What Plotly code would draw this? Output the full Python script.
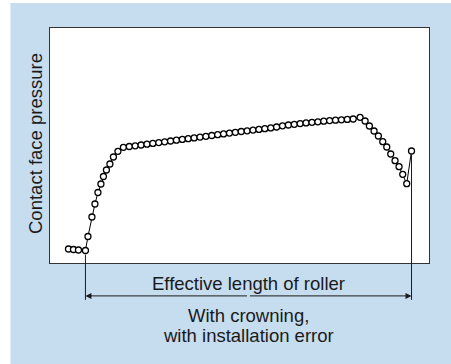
import plotly.graph_objects as go

# Position along the roller (arbitrary units) and contact face pressure (arbitrary units)
x_pos = [18.5, 23.5, 28.5, 35.5,
         38.0, 42.0, 45.0, 48.0, 51.0, 53.5, 56.5, 60.0, 63.5, 68.0,
         73.5, 79.4, 85.3, 91.2, 97.1, 103.0, 108.9, 114.8, 120.7, 126.6,
         132.5, 138.4, 144.3, 150.2, 156.1, 162.0, 167.9, 173.8, 179.7, 185.6,
         191.5, 197.4, 203.3, 209.2, 215.1, 221.0, 226.9, 232.8, 238.7, 244.6,
         250.5, 256.4, 262.3, 268.2, 274.1, 280.0, 285.9, 291.8, 297.7, 303.6,
         310.5,
         315.5, 319.8, 324.5, 328.8, 333.2, 337.2, 341.2, 345.5, 349.5, 353.2, 357.2,
         362.0]
pressure = [14.0, 13.5, 13.0, 12.5,
            26.5, 46.0, 59.0, 70.5, 79.0, 86.5, 93.0, 99.0, 106.0, 111.7,
            115.7, 116.5, 117.2, 118.0, 118.8, 119.6, 120.4, 121.2, 122.0, 122.8,
            123.6, 124.3, 125.1, 125.9, 126.7, 127.5, 128.3, 129.1, 129.9, 130.7,
            131.5, 132.2, 132.9, 133.6, 134.3, 135.1, 136.0, 137.2, 138.0, 138.7,
            139.4, 140.1, 140.7, 141.2, 141.8, 142.4, 142.8, 143.2, 143.6, 144.0,
            145.7,
            142.0, 137.0, 132.0, 127.0, 121.3, 116.0, 109.0, 102.3, 96.3, 88.7, 79.3,
            112.0]

effective_start_idx = 3   # first point of the effective length
effective_end_idx = 66    # last point of the effective length

y_title = "Contact face pressure"
dim_label = "Effective length of roller"
caption_1 = "With crowning,"
caption_2 = "with installation error"

X_RANGE = [0, 379.5]
Y_RANGE = [0, 235]

FONT = "Liberation Sans, Arial, Helvetica, sans-serif"
INK = "#1a1a1a"
BLUE = "#c6ddf0"

fig = go.Figure()
fig.add_trace(go.Scatter(
    x=x_pos, y=pressure, mode="lines+markers",
    line=dict(color="black", width=1),
    marker=dict(symbol="circle", size=6, color="white",
                line=dict(color="black", width=1.3)),
    hoverinfo="skip", showlegend=False, cliponaxis=False,
))

def to_paper_y(v):
    return (v - Y_RANGE[0]) / (Y_RANGE[1] - Y_RANGE[0])

xs = x_pos[effective_start_idx]
xe = x_pos[effective_end_idx]
y_dim = -0.140
y_bottom = -0.157

shapes = [
    # white strips at top and left of the page
    dict(type="rect", xref="paper", yref="paper", x0=-0.25, x1=1.2, y0=1.106, y1=1.3,
         fillcolor="white", line=dict(width=0), layer="above"),
    dict(type="rect", xref="paper", yref="paper", x0=-0.25, x1=-0.1043, y0=-0.6, y1=1.3,
         fillcolor="white", line=dict(width=0), layer="above"),
    # extension lines
    dict(type="line", xref="x", yref="paper", x0=xs, x1=xs,
         y0=to_paper_y(pressure[effective_start_idx] - 4), y1=y_bottom,
         line=dict(color=INK, width=1)),
    dict(type="line", xref="x", yref="paper", x0=xe, x1=xe,
         y0=to_paper_y(pressure[effective_end_idx] - 4), y1=y_bottom,
         line=dict(color=INK, width=1)),
]

annotations = [
    dict(x=xs, y=y_dim, xref="x", yref="paper", ax=(xs + xe) / 2, ay=0,
         axref="x", ayref="pixel", text="", showarrow=True, arrowhead=2,
         arrowsize=1.2, arrowwidth=1, arrowcolor=INK, standoff=0, startstandoff=0),
    dict(x=xe, y=y_dim, xref="x", yref="paper", ax=(xs + xe) / 2, ay=0,
         axref="x", ayref="pixel", text="", showarrow=True, arrowhead=2,
         arrowsize=1.2, arrowwidth=1, arrowcolor=INK, standoff=0, startstandoff=0),
    dict(x=(xs + xe) / 2, y=-0.089, xref="x", yref="paper", text=dim_label,
         showarrow=False, font=dict(family=FONT, size=18.5, color=INK),
         xanchor="center", yanchor="middle"),
    dict(x=(xs + xe) / 2, y=-0.224, xref="x", yref="paper", text=caption_1,
         showarrow=False, font=dict(family=FONT, size=18.5, color=INK),
         xanchor="center", yanchor="middle"),
    dict(x=(xs + xe) / 2, y=-0.309, xref="x", yref="paper", text=caption_2,
         showarrow=False, font=dict(family=FONT, size=18.5, color=INK),
         xanchor="center", yanchor="middle"),
    dict(x=-0.04, y=0.51, xref="paper", yref="paper", text=y_title, textangle=-90,
         showarrow=False, font=dict(family=FONT, size=18.5, color=INK),
         xanchor="center", yanchor="middle"),
]

fig.update_layout(
    width=451, height=364,
    margin=dict(l=50, r=22, t=28, b=101),
    paper_bgcolor=BLUE, plot_bgcolor="white",
    xaxis=dict(range=X_RANGE, showgrid=False, zeroline=False, showticklabels=False,
               ticks="", showline=True, mirror=True, linecolor="#333", linewidth=1,
               fixedrange=True),
    yaxis=dict(range=Y_RANGE, showgrid=False, zeroline=False, showticklabels=False,
               ticks="", showline=True, mirror=True, linecolor="#333", linewidth=1,
               fixedrange=True),
    shapes=shapes, annotations=annotations,
    font=dict(family=FONT, color=INK),
)

fig.write_html(
    "out.html",
    config={"displayModeBar": False},
    post_script="document.body.style.margin='0';document.body.style.overflow='hidden';",
)
